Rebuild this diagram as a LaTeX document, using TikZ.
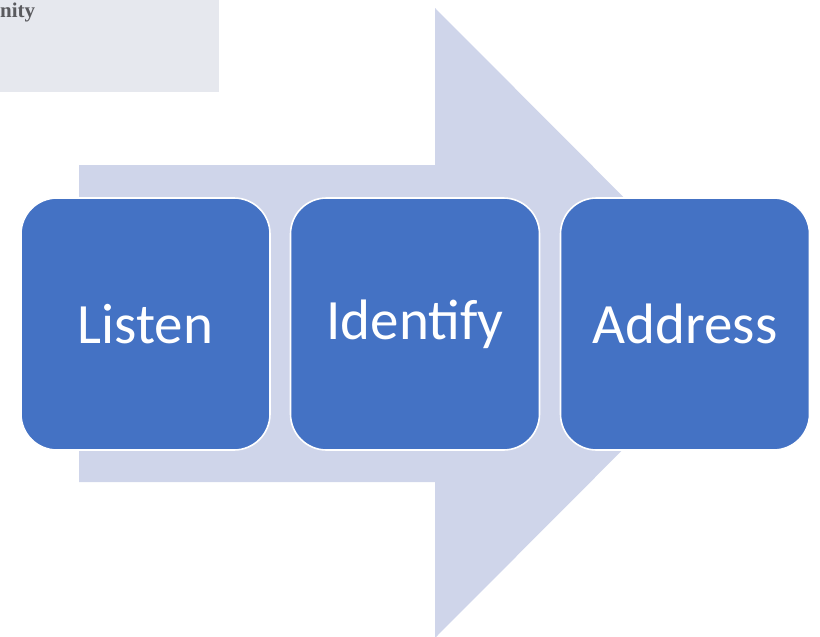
\documentclass[tikz,border=0pt]{standalone}
\usepackage{fontspec}
\setmainfont{Carlito}
\newfontfamily\oldserif{Liberation Serif}
\definecolor{arrowfill}{HTML}{CFD5EA}
\definecolor{boxfill}{HTML}{4472C4}
\definecolor{clipgray}{HTML}{E6E8EE}
\definecolor{cliptext}{HTML}{5A5A5E}
\tikzset{
  stepbox/.style={draw=white, line width=1.6pt, fill=boxfill, rounded corners=36pt,
    minimum width=249pt, minimum height=252pt, inner sep=0pt,
    text=white, font=\fontsize{57}{60}\selectfont},
}
\begin{document}
\begin{tikzpicture}[x=1pt,y=-1pt]
\useasboundingbox (0,0) rectangle (820,637);
% clipped fragment at top-left
\begin{scope}
\clip (0,0) rectangle (219,92);
\fill[clipgray] (0,0) rectangle (219,92);
\node[anchor=base west, inner sep=0pt, text=cliptext, font=\oldserif\bfseries\fontsize{21}{22}\selectfont] (frag) at (0,17) {nity};
\end{scope}
% big arrow
\fill[arrowfill] (79,165) -- (435,165) -- (435,8) -- (749,323) -- (435,638) -- (435,482) -- (79,482) -- cycle;
% steps
\node[stepbox] (listen) at (145.5,324) {Listen};
\node[stepbox] (identify) at (415,324) {Identify};
\node[stepbox] (address) at (685,324) {Address};
\end{tikzpicture}
\end{document}
